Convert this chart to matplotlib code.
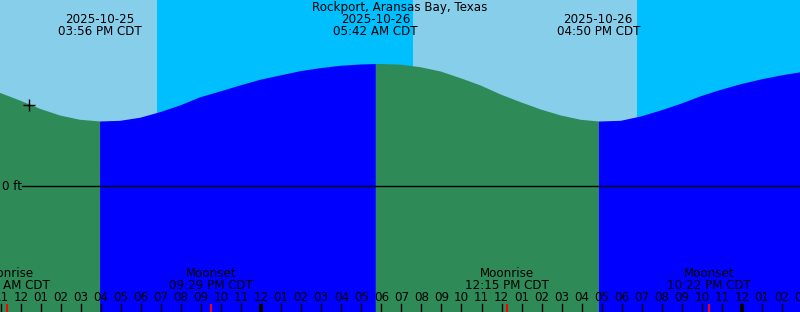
import numpy as np
import matplotlib.pyplot as plt
import matplotlib.transforms as mtransforms

# hours since 2025-10-25 00:00 CDT, heights in ft
times = [10.93, 11.93, 12.93, 13.93, 14.93, 15.93, 16.93, 17.93, 18.93, 19.93,
         20.93, 21.93, 22.93, 23.93, 24.93, 25.93, 26.93, 27.93, 28.93, 29.93,
         30.93, 31.93, 32.93, 33.93, 34.93, 35.93, 36.93, 37.93, 38.93, 39.93,
         40.93, 41.93, 42.93, 43.93, 44.93, 45.93, 46.93, 47.93, 48.93, 49.93,
         50.93]
heights = [1.171, 1.075, 0.971, 0.888, 0.834, 0.813, 0.821, 0.859, 0.929, 1.013,
           1.115, 1.188, 1.263, 1.334, 1.388, 1.441, 1.479, 1.509, 1.525, 1.531,
           1.523, 1.491, 1.438, 1.354, 1.263, 1.150, 1.054, 0.963, 0.888, 0.834,
           0.813, 0.821, 0.875, 0.950, 1.034, 1.129, 1.209, 1.279, 1.338, 1.388,
           1.429]

extreme_times = [15.93, 29.70, 40.83]
extreme_heights = [0.8125, 1.531, 0.8125]
extreme_dates = ["2025-10-25", "2025-10-26", "2025-10-26"]
extreme_labels = ["03:56 PM CDT", "05:42 AM CDT", "04:50 PM CDT"]

# sunset / sunrise / sunset
sun_times = [18.78, 31.58, 42.78]

moon_times = [11.33, 21.48, 36.25, 46.37]
moon_names = ["Moonrise", "Moonset", "Moonrise", "Moonset"]
moon_labels = ["11:20 AM CDT", "09:29 PM CDT", "12:15 PM CDT", "10:22 PM CDT"]

midnights = [24, 48]
now_time, now_height = 12.43, 1.0125

t_left, t_right = 10.93, 50.93
y_bot, y_top = -1.575, 2.325

day_col, night_col = "#87CEEB", "#00BFFF"
ebb_col, flood_col = "#2E8B57", "#0000FF"
fs = 8.6

fig = plt.figure(figsize=(8, 3.12), dpi=100)
ax = fig.add_axes([0, 0, 1, 1])
ax.set_xlim(t_left + 0.03, t_right - 0.03)
ax.set_ylim(y_bot, y_top)
ax.axis('off')

# sky: day / night bands
edges = [t_left] + sun_times + [t_right]
for i in range(len(edges) - 1):
    ax.axvspan(edges[i], edges[i + 1], color=day_col if i % 2 == 0 else night_col,
               lw=0, zorder=0)

# tide curve with extremes merged in
t_all = np.array(times + extreme_times)
h_all = np.array(heights + extreme_heights)
order = np.argsort(t_all)
t_all, h_all = t_all[order], h_all[order]

seg = [t_left] + extreme_times + [t_right]
for i in range(len(seg) - 1):
    m = (t_all >= seg[i]) & (t_all <= seg[i + 1])
    ax.fill_between(t_all[m], y_bot, h_all[m], color=ebb_col if i % 2 == 0 else flood_col,
                    lw=0, zorder=1)

# datum line
ax.axhline(0, xmin=22 / 800, xmax=1, color="black", lw=1, zorder=3)
trans = mtransforms.blended_transform_factory(ax.transAxes, ax.transData)
ax.text(2 / 800, 0, "0 ft", transform=trans, ha="left", va="center", fontsize=fs)

# now mark
ax.plot([now_time], [now_height], marker="+", color="black", ms=8, mew=1, zorder=4)

ty = mtransforms.blended_transform_factory(ax.transData, ax.transAxes)
fy = lambda px: 1 - px / 312

ax.text(0.5, fy(7.5), "Rockport, Aransas Bay, Texas", transform=ax.transAxes,
        ha="center", va="center", fontsize=fs)
for t, d, lab in zip(extreme_times, extreme_dates, extreme_labels):
    ax.text(t, fy(19.5), d, transform=ty, ha="center", va="center", fontsize=fs)
    ax.text(t, fy(31.5), lab, transform=ty, ha="center", va="center", fontsize=fs)

for t, n, lab in zip(moon_times, moon_names, moon_labels):
    ax.text(t, fy(273.5), n, transform=ty, ha="center", va="center", fontsize=fs)
    ax.text(t, fy(285.5), lab, transform=ty, ha="center", va="center", fontsize=fs)
    ax.plot([t, t], [fy(304), 0], transform=ty, color="red", lw=1.4, zorder=5,
            solid_capstyle="butt")

# hour ticks
for h in range(11, 52):
    ax.text(h, fy(297.5), f"{(h - 1) % 12 + 1:02d}", transform=ty,
            ha="center", va="center", fontsize=fs)
    ax.plot([h, h], [fy(304), 0], transform=ty, color="black", lw=1, zorder=4)
for h in midnights:
    ax.plot([h, h], [fy(304), 0], transform=ty, color="black", lw=3, zorder=5,
            solid_capstyle="butt")

fig.savefig("out.png", dpi=100)
